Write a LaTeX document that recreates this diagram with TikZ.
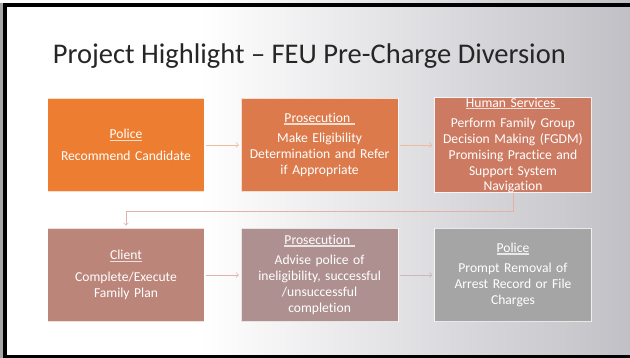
\documentclass[tikz,border=0pt]{standalone}
\usepackage{fontspec}
\setmainfont{Carlito}[Ligatures=NoCommon]
\usetikzlibrary{arrows.meta}

\definecolor{bgGray}{RGB}{192,192,198}
\definecolor{titleGray}{RGB}{38,38,38}
\definecolor{stepA}{RGB}{237,125,49}
\definecolor{stepB}{RGB}{220,122,76}
\definecolor{stepC}{RGB}{205,122,98}
\definecolor{stepD}{RGB}{188,133,122}
\definecolor{stepE}{RGB}{175,144,144}
\definecolor{stepF}{RGB}{165,165,165}
\definecolor{flowA}{RGB}{240,186,160}
\definecolor{flowB}{RGB}{226,178,168}
\definecolor{flowC}{RGB}{200,186,186}

\newcommand{\hdr}[1]{\sbox0{#1}\usebox0\llap{\rule[-2.4pt]{\wd0}{1.5pt}}}

\tikzset{
  stepbox/.style={draw=white, draw opacity=0.75, line width=0.8pt, text=white,
    minimum width=156.6pt, minimum height=93.7pt, text width=152pt,
    align=center, inner sep=0pt, font=\fontsize{13.6}{16.2}\selectfont},
  flow/.style={line width=0.6pt, -{Straight Barb[length=2.5pt,width=5pt]},
    shorten >=2pt, shorten <=1.5pt},
}

\begin{document}
\begin{tikzpicture}[x=1pt, y=-1pt]
\useasboundingbox (0,0) rectangle (630,358);
\fill[white] (0,0) rectangle (630,358);
\shade[left color=white, right color=bgGray] (200,0) rectangle (630,358);
\fill[gray!70] (0,3) rectangle (3,358);
\draw[black, line width=3.5pt] (5,5) rectangle (645,356.5);

\node[anchor=base west, inner sep=0pt, text=titleGray,
  font=\fontsize{28.5}{32}\selectfont] (T) at (52.7,63.3)
  {Project Highlight – FEU Pre-Charge Diversion};

\node[stepbox, fill=stepA] (B1) at (126,145)
  {\hdr{Police}\\[5.5pt] Recommend Candidate};
\node[stepbox, fill=stepB] (B2) at (319.6,145)
  {\hdr{Prosecution\ }\\[4pt] Make Eligibility\\ Determination and Refer\\ if Appropriate};
\node[stepbox, fill=stepC] (B3) at (513,145)
  {\hdr{Human Services\ }\\[4pt] Perform Family Group\\ Decision Making (FGDM)\\ Promising Practice and\\ Support System\\[-2pt] Navigation};
\node[stepbox, fill=stepD] (B4) at (126,275)
  {\hdr{Client}\\[5.5pt] Complete/Execute\\ Family Plan};
\node[stepbox, fill=stepE] (B5) at (319.6,275)
  {\hdr{Prosecution\ }\\[4pt] Advise police of\\ ineligibility, successful\\ /unsuccessful\\ completion};
\node[stepbox, fill=stepF] (B6) at (513,275)
  {\hdr{Police}\\[4pt] Prompt Removal of\\ Arrest Record or File\\ Charges};

\draw[flow, flowA] (B1) -- (B2);
\draw[flow, flowA] (B2) -- (B3);
\draw[flow, flowB, shorten <=0pt] (B3.south) -- ++(0,18.3) -| (B4.north);
\draw[flow, flowB] (B4) -- (B5);
\draw[flow, flowC] (B5) -- (B6);
\end{tikzpicture}
\end{document}
